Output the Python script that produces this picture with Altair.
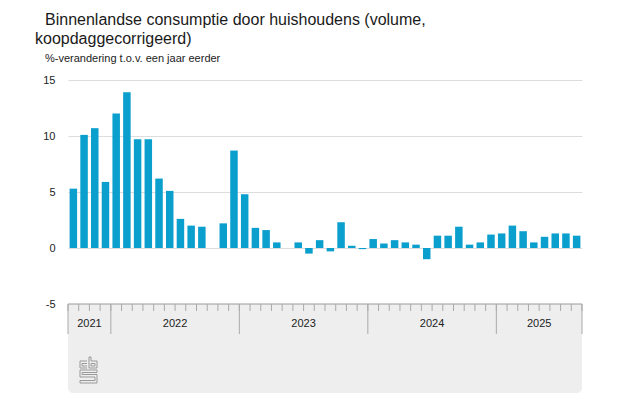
import altair as alt
import pandas as pd

# ---- data ----
values = [5.3, 10.1, 10.7, 5.9,
          12.0, 13.9, 9.7, 9.7, 6.2, 5.1, 2.6, 2.0, 1.9, 0.0, 2.2, 8.7,
          4.8, 1.8, 1.6, 0.5, 0.0, 0.5, -0.5, 0.7, -0.3, 2.3, 0.2, -0.1,
          0.8, 0.4, 0.7, 0.5, 0.3, -1.0, 1.1, 1.1, 1.9, 0.3, 0.5, 1.2,
          1.3, 2.0, 1.5, 0.5, 1.0, 1.3, 1.3, 1.1]
years = ["2021", "2022", "2023", "2024", "2025"]
months_per_year = [4, 12, 12, 12, 8]
y_ticks = [-5, 0, 5, 10, 15]

title_line1 = "Binnenlandse consumptie door huishoudens (volume,"
title_line2 = "koopdaggecorrigeerd)"
subtitle = "%-verandering t.o.v. een jaar eerder"

BLUE = "#0a9fcd"
FONT = "Liberation Sans"

n = len(values)
bars = pd.DataFrame({"i": list(range(n)), "v": values})
bars["x0"] = bars["i"] + 0.15
bars["x1"] = bars["i"] + 0.85

bounds = [0]
for m in months_per_year:
    bounds.append(bounds[-1] + m)
year_df = pd.DataFrame({
    "year": years,
    "mid": [(bounds[k] + bounds[k + 1]) / 2 for k in range(len(years))],
})
yt_df = pd.DataFrame({"b": bounds})
mt_df = pd.DataFrame({"m": list(range(n + 1))})
band_df = pd.DataFrame({"a": [0], "b": [n]})

xs = alt.Scale(domain=[0, n], nice=False, zero=False)
ys = alt.Scale(domain=[-5, 15], nice=False)

H = 224
BAND_BOTTOM = 313

band = alt.Chart(band_df).mark_rect(
    color="#eeeeee", cornerRadiusBottomLeft=5, cornerRadiusBottomRight=5
).encode(
    x=alt.X("a:Q", scale=xs, axis=None),
    x2="b:Q",
    y=alt.value(H),
    y2=alt.value(BAND_BOTTOM),
)

bar = alt.Chart(bars).mark_rect(color=BLUE).encode(
    x=alt.X("x0:Q", scale=xs, axis=None),
    x2="x1:Q",
    y=alt.Y("v:Q", scale=ys, axis=alt.Axis(
        values=y_ticks, grid=True, gridColor="#dddddd", domain=False,
        ticks=False, labelPadding=13, labelFont=FONT, labelFontSize=11,
        labelColor="#222222", title=None,
        labelExpr="datum.value < 0 ? '-' + abs(datum.value) : datum.label")),
    y2=alt.datum(0),
)

axis_line = alt.Chart(band_df).mark_rule(color="#9a9a9a", strokeWidth=1).encode(
    x=alt.X("a:Q", scale=xs, axis=None),
    x2="b:Q",
    y=alt.value(H),
)

month_ticks = alt.Chart(mt_df).mark_rule(color="#aaaaaa").encode(
    x=alt.X("m:Q", scale=xs, axis=None),
    y=alt.value(H),
    y2=alt.value(H + 7),
)

year_ticks = alt.Chart(yt_df).mark_rule(color="#aaaaaa").encode(
    x=alt.X("b:Q", scale=xs, axis=None),
    y=alt.value(H),
    y2=alt.value(H + 30),
)

year_labels = alt.Chart(year_df).mark_text(
    font=FONT, fontSize=11, color="#222222", baseline="alphabetic"
).encode(
    x=alt.X("mid:Q", scale=xs, axis=None),
    y=alt.value(H + 23),
    text="year:N",
)

# title / subtitle as text
titles_df = pd.DataFrame({"t1": [title_line1], "t2": [title_line2], "s": [subtitle]})
t1 = alt.Chart(titles_df).mark_text(
    font=FONT, fontSize=16, color="#1a1a1a", align="left", baseline="alphabetic"
).encode(x=alt.value(-23), y=alt.value(-55), text="t1:N")
t2 = alt.Chart(titles_df).mark_text(
    font=FONT, fontSize=16, color="#1a1a1a", align="left", baseline="alphabetic"
).encode(x=alt.value(-33), y=alt.value(-36), text="t2:N")
st = alt.Chart(titles_df).mark_text(
    font=FONT, fontSize=11, color="#222222", align="left", baseline="alphabetic"
).encode(x=alt.value(-23), y=alt.value(-18), text="s:N")

# CBS logo (grey line glyph), local pixel offsets
LX, LY = 12, H + 53
segs = [
    # c
    (0, 4, 7, 4), (0, 4, 0, 11), (0, 11, 7, 11), (2, 6.5, 7, 6.5), (2, 6.5, 2, 9), (2, 9, 7, 9),
    # b
    (9, 0, 9, 11), (9, 0, 11, 0), (11, 0, 11, 4), (11, 4, 17, 4), (17, 4, 17, 11), (9, 11, 17, 11),
    (11, 6.5, 15, 6.5), (15, 6.5, 15, 9), (11, 9, 15, 9), (11, 6.5, 11, 9),
    # s
    (0, 13, 17, 13), (0, 13, 0, 20), (2, 15.5, 17, 15.5), (17, 13, 17, 15.5), (2, 15.5, 2, 17.5),
    (2, 17.5, 17, 17.5), (0, 20, 15, 20), (17, 17.5, 17, 26), (15, 20, 15, 23.5),
    (0, 23.5, 15, 23.5), (0, 23.5, 0, 26), (0, 26, 17, 26),
]
logo_df = pd.DataFrame({
    "x": [LX + s[0] for s in segs], "y": [LY + s[1] for s in segs],
    "x2": [LX + s[2] for s in segs], "y2": [LY + s[3] for s in segs],
})
logo = alt.Chart(logo_df).mark_rule(color="#999999", strokeWidth=1).encode(
    x=alt.X("x:Q", scale=None, axis=None),
    x2="x2:Q",
    y=alt.Y("y:Q", scale=None, axis=None),
    y2="y2:Q",
)

chart = alt.layer(
    band, bar, axis_line, month_ticks, year_ticks, year_labels, logo, t1, t2, st
).properties(
    width=514,
    height=H,
    autosize=alt.AutoSizeParams(type="none"),
    padding={"left": 60, "top": 72, "right": 30, "bottom": 100},
).configure_view(stroke=None)

chart.save("out.html", embed_options={"renderer": "svg", "actions": False})
